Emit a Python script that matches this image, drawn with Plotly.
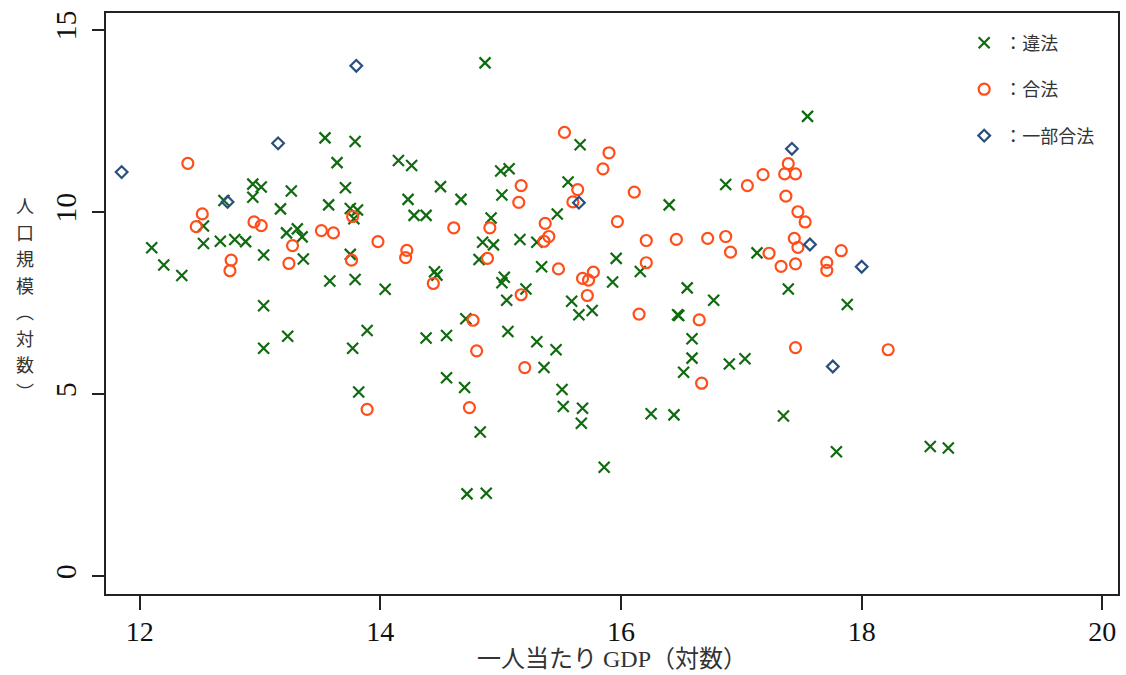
import plotly.graph_objects as go

# 違法 (illegal)
illegal_x = [12.10, 12.20, 12.35, 12.53, 12.53, 12.67, 12.70, 12.79, 12.88, 12.94, 13.01, 12.94,
             13.03, 13.03, 13.03, 13.17, 13.22, 13.23, 13.26, 13.31, 13.35, 13.36, 13.54, 13.57,
             13.58, 13.64, 13.71, 13.75, 13.75, 13.77, 13.78, 13.79, 13.79, 13.81, 13.82, 13.89,
             14.04, 14.15, 14.23, 14.26, 14.28, 14.38, 14.38, 14.45, 14.47, 14.50, 14.55, 14.55,
             14.67, 14.70, 14.71, 14.72, 14.82, 14.83, 14.85, 14.87, 14.88, 14.92, 14.94, 15.00,
             15.01, 15.01, 15.03, 15.05, 15.06, 15.07, 15.16, 15.21, 15.30, 15.30, 15.34, 15.36,
             15.46, 15.47, 15.51, 15.52, 15.56, 15.59, 15.65, 15.66, 15.67, 15.68, 15.76, 15.86,
             15.93, 15.96, 16.16, 16.25, 16.40, 16.44, 16.47, 16.48, 16.52, 16.55, 16.59, 16.59,
             16.77, 16.87, 16.90, 17.03, 17.13, 17.35, 17.39, 17.55, 17.79, 17.88, 18.57, 18.72]
illegal_y = [9.02, 8.55, 8.26, 9.62, 9.14, 9.20, 10.32, 9.25, 9.19, 10.77, 10.69, 10.41,
             8.82, 7.43, 6.26, 10.09, 9.43, 6.59, 10.58, 9.54, 9.32, 8.71, 12.04, 10.20,
             8.11, 11.36, 10.67, 10.10, 8.84, 6.26, 9.82, 11.94, 8.15, 10.06, 5.06, 6.75,
             7.88, 11.42, 10.35, 11.28, 9.91, 9.91, 6.54, 8.36, 8.27, 10.70, 6.61, 5.45,
             10.35, 5.18, 7.07, 2.26, 8.70, 3.96, 9.17, 14.10, 2.28, 9.84, 9.10, 11.13,
             10.47, 8.06, 8.21, 7.58, 6.72, 11.19, 9.25, 7.89, 9.17, 6.44, 8.50, 5.73,
             6.22, 9.95, 5.13, 4.66, 10.83, 7.55, 7.18, 11.85, 4.20, 4.61, 7.30, 2.99,
             8.08, 8.73, 8.37, 4.46, 10.20, 4.43, 7.18, 7.16, 5.60, 7.92, 6.52, 5.99,
             7.58, 10.76, 5.83, 5.97, 8.88, 4.40, 7.89, 12.63, 3.42, 7.46, 3.56, 3.52]

# 合法 (legal)
legal_x = [12.40, 12.47, 12.52, 12.75, 12.76, 12.95, 13.01, 13.24, 13.27, 13.51, 13.61, 13.76,
           13.77, 13.89, 13.98, 14.21, 14.22, 14.44, 14.61, 14.74, 14.77, 14.80, 14.89, 14.91,
           15.15, 15.17, 15.17, 15.20, 15.36, 15.37, 15.40, 15.48, 15.53, 15.60, 15.64, 15.68,
           15.72, 15.73, 15.77, 15.85, 15.90, 15.97, 16.11, 16.15, 16.21, 16.21, 16.46, 16.65,
           16.67, 16.72, 16.87, 16.91, 17.05, 17.18, 17.23, 17.33, 17.36, 17.37, 17.39, 17.44,
           17.45, 17.45, 17.45, 17.47, 17.47, 17.53, 17.71, 17.71, 17.83, 18.22]
legal_y = [11.34, 9.60, 9.95, 8.39, 8.68, 9.73, 9.63, 8.59, 9.08, 9.49, 9.43, 8.68,
           9.88, 4.58, 9.19, 8.75, 8.95, 8.04, 9.57, 4.63, 7.03, 6.19, 8.73, 9.57,
           10.27, 10.73, 7.73, 5.73, 9.20, 9.69, 9.33, 8.44, 12.19, 10.28, 10.62, 8.18,
           7.71, 8.13, 8.35, 11.19, 11.63, 9.74, 10.55, 7.20, 9.22, 8.61, 9.25, 7.04,
           5.30, 9.28, 9.33, 8.90, 10.73, 11.03, 8.87, 8.51, 11.05, 10.44, 11.33, 9.28,
           11.05, 8.58, 6.28, 10.01, 9.03, 9.73, 8.62, 8.40, 8.94, 6.22]

# 一部合法 (partially legal)
partial_x = [11.85, 12.73, 13.15, 13.80, 15.65, 17.42, 17.57, 17.76, 18.00]
partial_y = [11.10, 10.28, 11.89, 14.02, 10.26, 11.74, 9.11, 5.76, 8.50]

legend_names = ["：違法", "：合法", "：一部合法"]
x_ticks = [12, 14, 16, 18, 20]
y_ticks = [0, 5, 10, 15]
x_title = "一人当たり GDP（対数）"
y_title_chars = ["人", "口", "規", "模", "︵", "対", "数", "︶"]

GREEN = "#106b10"
ORANGE = "#ff4e1a"
NAVY = "#2b4f7c"
FONT = "Liberation Serif, Noto Sans CJK JP, serif"

fig = go.Figure()
fig.add_trace(go.Scatter(
    x=illegal_x, y=illegal_y, mode="markers", name=legend_names[0], legendgroup="a",
    marker=dict(symbol="x-thin", size=11, color=GREEN, line=dict(color=GREEN, width=2.2)),
))
fig.add_trace(go.Scatter(
    x=legal_x, y=legal_y, mode="markers", name=legend_names[1], legendgroup="b",
    marker=dict(symbol="circle-open", size=11, color=ORANGE, line=dict(color=ORANGE, width=2.2)),
))
fig.add_trace(go.Scatter(
    x=partial_x, y=partial_y, mode="markers", name=legend_names[2], legendgroup="c",
    marker=dict(symbol="diamond-open", size=9, color=NAVY, line=dict(color=NAVY, width=2.2)),
))

fig.update_layout(
    width=1126, height=675,
    margin=dict(l=106, r=8, t=13, b=81, autoexpand=False),
    plot_bgcolor="white", paper_bgcolor="white",
    font=dict(family=FONT, color="#222"),
    showlegend=True,
    legend=dict(
        x=0.848, y=0.980, xanchor="left", yanchor="top",
        bgcolor="rgba(0,0,0,0)", tracegroupgap=20, itemwidth=30,
        font=dict(size=18, color="#333", family="Noto Sans CJK JP"),
    ),
)
fig.update_xaxes(
    range=[11.72, 20.13], tickvals=x_ticks, ticktext=[str(v) for v in x_ticks],
    showgrid=False, zeroline=False, showline=True, mirror=True, linecolor="#222", linewidth=1.8,
    ticks="outside", ticklen=14, tickwidth=1.5, tickcolor="#222", automargin=False,
    tickfont=dict(size=28, family="Liberation Serif", color="#111"), ticklabelstandoff=-3,
    title=dict(text=x_title, font=dict(size=24, color="#333", family=FONT), standoff=2),
)
fig.update_yaxes(
    range=[-0.49, 15.47], tickvals=y_ticks, ticktext=[str(v) for v in y_ticks],
    showgrid=False, zeroline=False, showline=True, mirror=True, linecolor="#222", linewidth=1.8,
    ticks="outside", ticklen=12, tickwidth=1.5, tickcolor="#222", tickangle=-90, automargin=False,
    tickfont=dict(size=30, family="Liberation Serif", color="#111"), ticklabelstandoff=4,
)
# vertical y-axis title, one character per line
for i, ch in enumerate(y_title_chars):
    fig.add_annotation(
        text=ch, xref="paper", yref="paper",
        x=-0.080, y=1.0, xanchor="center", yanchor="middle", showarrow=False,
        yshift=-(205 - 13 + i * 26.5), borderpad=0,
        font=dict(size=18, color="#333", family="Noto Sans CJK JP"),
    )

fig.write_html("out.html", post_script="document.body.style.margin='0';",
               config={"displayModeBar": False})
